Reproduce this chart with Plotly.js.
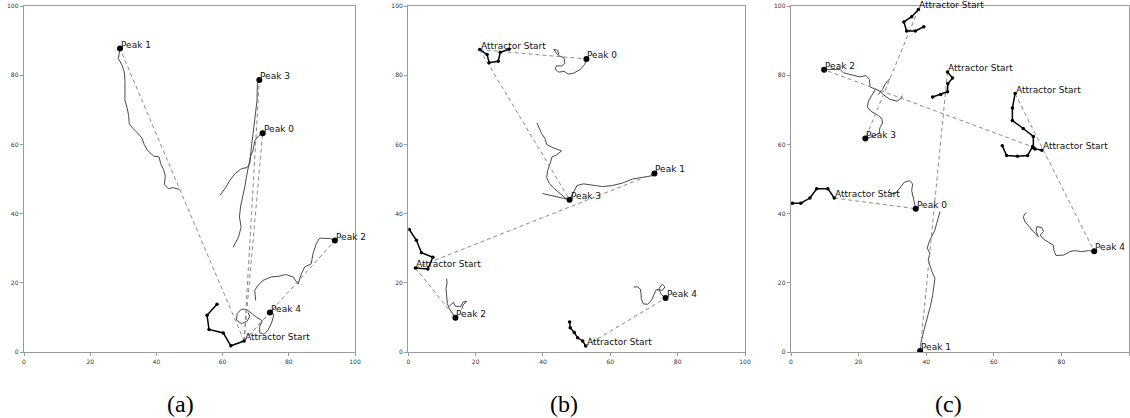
<!DOCTYPE html>
<html>
<head>
<meta charset="utf-8">
<script src="https://cdn.plot.ly/plotly-3.0.1.min.js"></script>
<style>html,body{margin:0;padding:0;background:#fff;}#chart{width:1130px;height:418px;}</style>
</head>
<body>
<div id="chart"></div>
<script>
// ---------------- Panel (a) ----------------
const peaksA_x = [72.1, 29.0, 93.9, 71.1, 74.3];
const peaksA_y = [63.2, 87.7, 32.2, 78.6, 11.4];
const peaksA_labels = ["Peak 0", "Peak 1", "Peak 2", "Peak 3", "Peak 4"];
const startsA_x = [66.5];
const startsA_y = [3.2];
const linksA_start = [0, 0, 0, 0, 0];
const linksA_peak = [1, 3, 0, 2, 4];
const pathA1_x = [58.3, 55.3, 55.9, 60.2, 62.5, 66.5];
const pathA1_y = [13.8, 10.6, 6.5, 5.5, 1.8, 3.2];
const trajA1_x = [29.0, 28.5, 29.6, 30.3, 30.5, 30.5, 31.1, 31.6, 31.8, 32.8, 34.2, 35.6, 36.3, 37.3, 39.2, 40.8, 41.3, 42.2, 42.7, 42.4, 43.6, 45.1, 46.9];
const trajA1_y = [87.7, 84.8, 82.9, 81.0, 78.5, 72.7, 70.8, 68.4, 66.0, 64.7, 63.4, 61.9, 60.0, 58.3, 56.6, 56.4, 54.4, 52.7, 50.8, 48.4, 47.2, 47.5, 47.0];
const trajA2_x = [71.1, 70.5, 70.4, 70.0, 69.5, 69.2, 68.8, 68.4, 68.2, 67.4, 65.7, 63.7, 62.2, 60.7, 59.2];
const trajA2_y = [78.6, 77.6, 72.7, 68.9, 66.0, 63.1, 60.2, 57.3, 54.4, 53.3, 53.0, 51.5, 49.6, 47.2, 45.3];
const trajA3_x = [72.1, 71.0, 69.8, 69.2, 68.4, 67.7, 67.2, 66.7, 66.0, 65.4, 65.1, 65.6, 64.8, 63.2];
const trajA3_y = [63.2, 62.6, 61.2, 58.3, 56.4, 53.5, 50.6, 47.7, 44.8, 41.9, 39.0, 36.1, 33.2, 30.3];
const trajA4_x = [93.9, 92.4, 89.3, 88.3, 87.3, 86.8, 84.8, 83.8, 82.8, 81.3, 79.1, 77.1, 74.7, 72.2, 70.7, 69.7, 70.0];
const trajA4_y = [32.2, 32.8, 32.9, 31.3, 28.4, 25.5, 24.6, 22.6, 19.6, 21.7, 22.4, 21.9, 21.7, 20.7, 19.3, 17.8, 14.9];
const trajA5_x = [74.3, 75.5, 74.8, 73.7, 72.5, 71.2, 71.2, 72.0, 70.2, 68.7, 67.2, 65.7, 64.4, 64.2, 65.7, 67.4, 68.2, 67.7];
const trajA5_y = [11.4, 10.9, 8.4, 6.3, 5.1, 5.6, 7.4, 9.0, 10.1, 11.1, 12.3, 12.4, 11.1, 9.2, 8.2, 8.9, 10.3, 11.4];

// ---------------- Panel (b) ----------------
const peaksB_x = [52.9, 73.1, 14.0, 47.9, 76.4];
const peaksB_y = [84.7, 51.6, 9.9, 44.0, 15.6];
const peaksB_labels = ["Peak 0", "Peak 1", "Peak 2", "Peak 3", "Peak 4"];
const startsB_x = [21.2, 2.1, 52.7];
const startsB_y = [87.4, 24.3, 1.7];
const linksB_start = [0, 0, 1, 1, 2];
const linksB_peak = [0, 3, 1, 2, 4];
const pathB1_x = [29.9, 27.3, 26.7, 24.0, 23.4, 21.2];
const pathB1_y = [87.5, 86.6, 84.0, 83.6, 86.0, 87.4];
const pathB2_x = [0.3, 2.4, 3.9, 7.3, 5.8, 2.1];
const pathB2_y = [35.4, 32.3, 28.7, 27.4, 24.0, 24.3];
const pathB3_x = [47.9, 48.1, 49.3, 50.3, 51.8, 52.7];
const pathB3_y = [8.7, 7.0, 5.6, 4.1, 3.2, 1.7];
const trajB1_x = [52.9, 52.4, 51.0, 49.1, 47.5, 46.3, 44.7, 43.6, 44.0, 45.6, 46.5, 46.2, 45.0, 44.1, 43.2, 44.4, 44.7];
const trajB1_y = [84.7, 83.1, 81.6, 80.6, 80.3, 81.1, 80.9, 81.7, 82.7, 82.7, 83.5, 85.1, 85.5, 86.2, 87.5, 87.2, 85.9];
const trajB2_x = [38.2, 38.9, 39.6, 40.6, 41.1, 42.6, 44.2, 45.5, 44.1, 42.7, 42.1, 41.4, 41.1, 41.9, 43.4, 45.0, 46.5, 47.9];
const trajB2_y = [66.2, 64.5, 63.1, 61.7, 60.0, 59.2, 58.6, 58.1, 57.0, 56.4, 54.4, 52.5, 50.4, 48.7, 47.2, 45.8, 44.6, 44.0];
const trajB3_x = [47.9, 49.0, 50.1, 52.0, 54.8, 57.7, 60.5, 63.5, 66.6, 69.6, 73.4, 73.1];
const trajB3_y = [44.0, 46.0, 48.1, 48.6, 48.1, 47.8, 48.1, 48.8, 50.0, 50.5, 51.1, 51.6];
const trajB4_x = [47.9, 45.8, 43.4, 39.9];
const trajB4_y = [44.0, 44.5, 45.0, 45.8];
const trajB5_x = [14.0, 13.0, 12.2, 11.6, 11.4, 11.2, 11.5, 11.4];
const trajB5_y = [9.9, 11.3, 12.5, 14.0, 15.9, 18.3, 19.9, 21.2];
const trajB6_x = [12.2, 13.4, 14.0, 15.6, 16.3, 17.3, 16.3, 15.9];
const trajB6_y = [13.2, 14.4, 13.2, 13.2, 14.5, 14.7, 13.6, 12.5];
const trajB7_x = [76.4, 75.1, 74.4, 75.4, 76.2, 75.5, 73.8, 73.2, 72.3, 71.1, 69.8, 69.2, 69.1, 68.9, 68.1, 66.9];
const trajB7_y = [15.6, 16.7, 18.2, 19.6, 18.8, 17.8, 18.1, 17.1, 15.1, 13.8, 13.9, 15.4, 16.9, 18.2, 18.8, 18.8];

// ---------------- Panel (c) ----------------
const peaksC_x = [36.9, 38.2, 9.8, 22.0, 89.7];
const peaksC_y = [41.4, 0.3, 81.6, 61.7, 29.1];
const peaksC_labels = ["Peak 0", "Peak 1", "Peak 2", "Peak 3", "Peak 4"];
const startsC_x = [37.7, 46.3, 66.3, 74.2, 12.8];
const startsC_y = [99.0, 80.9, 74.7, 58.3, 44.5];
const linksC_start = [0, 1, 2, 3, 4];
const linksC_peak = [3, 1, 4, 2, 0];
const pathC1_x = [39.3, 36.8, 34.2, 33.4, 35.7, 37.7];
const pathC1_y = [94.0, 92.8, 92.8, 95.4, 96.9, 99.0];
const pathC2_x = [41.9, 44.3, 46.3, 46.4, 47.8, 46.3];
const pathC2_y = [73.7, 74.4, 75.2, 77.5, 79.2, 80.9];
const pathC3_x = [71.7, 71.7, 68.7, 65.5, 65.5, 66.3];
const pathC3_y = [59.0, 62.3, 64.6, 66.9, 70.5, 74.7];
const pathC4_x = [62.5, 63.8, 67.0, 70.0, 71.5, 72.2, 74.2];
const pathC4_y = [59.6, 56.8, 56.6, 56.8, 59.4, 58.7, 58.3];
const pathC5_x = [0.4, 2.9, 5.6, 7.6, 10.9, 12.8];
const pathC5_y = [43.0, 43.0, 44.5, 47.2, 47.2, 44.5];
const trajC1_x = [9.8, 14.5, 15.5, 18.0, 20.4, 22.2, 23.2, 23.4, 24.9, 26.3, 27.3, 29.3, 31.4, 32.5, 33.0];
const trajC1_y = [81.6, 81.7, 80.7, 80.1, 79.5, 79.9, 78.8, 76.6, 75.9, 75.4, 74.4, 73.0, 72.5, 73.3, 74.1];
const trajC2_x = [24.9, 23.9, 22.9, 22.6, 23.6, 25.4, 26.8, 27.1, 26.3, 26.1, 24.4, 22.0];
const trajC2_y = [75.8, 74.1, 72.5, 70.8, 69.6, 68.6, 67.6, 66.2, 64.8, 63.3, 62.3, 61.7];
const trajC3_x = [25.8, 27.1, 27.8, 28.5, 29.3];
const trajC3_y = [74.4, 75.9, 77.3, 78.3, 79.0];
const trajC4_x = [36.9, 36.5, 36.2, 35.7, 36.0, 35.0, 33.6, 32.7, 31.7, 30.8, 29.6, 28.8, 29.3];
const trajC4_y = [41.4, 43.0, 44.8, 46.7, 48.6, 49.5, 49.1, 48.0, 46.7, 45.7, 45.9, 46.3, 47.1];
const trajC5_x = [38.2, 38.5, 39.2, 39.9, 40.6, 41.3, 41.9, 42.4, 42.6, 41.7, 41.1, 40.6, 41.1, 40.3, 40.9, 41.9, 42.6, 43.1, 43.6, 44.1];
const trajC5_y = [0.3, 2.9, 5.8, 8.2, 10.6, 13.5, 16.4, 19.3, 21.3, 23.2, 25.1, 26.6, 28.5, 30.0, 31.9, 33.8, 35.3, 37.2, 39.1, 40.6];
const trajC6_x = [89.7, 88.0, 86.0, 84.0, 82.5, 80.6, 78.4, 77.8, 77.6, 76.1, 74.7, 73.7, 74.7, 74.2, 72.7, 72.5, 73.2, 71.7, 70.5, 69.2, 68.7, 69.5];
const trajC6_y = [29.1, 29.3, 29.0, 29.3, 29.0, 28.0, 27.9, 29.3, 30.9, 31.9, 32.6, 33.8, 34.8, 36.0, 36.2, 34.8, 33.3, 34.8, 36.2, 37.7, 39.1, 40.3];

const START_LABEL = "Attractor Start";
const PANEL_LABELS = ["(a)", "(b)", "(c)"];

// ---------------- build ----------------
const TEXT_FONT = {family: "DejaVu Sans", size: 9, color: "#111"};
const traces = [];
const annotations = [];

function panel(idx, trajs, paths, px, py, plabels, sx, sy, lstart, lpeak) {
  const xa = idx === 0 ? "x" : "x" + (idx + 1);
  const ya = idx === 0 ? "y" : "y" + (idx + 1);
  trajs.forEach(t => traces.push({x: t[0], y: t[1], xaxis: xa, yaxis: ya, mode: "lines",
    line: {color: "#4a4a4a", width: 1}, hoverinfo: "skip"}));
  for (let i = 0; i < lstart.length; i++) {
    traces.push({x: [sx[lstart[i]], px[lpeak[i]]], y: [sy[lstart[i]], py[lpeak[i]]], xaxis: xa, yaxis: ya,
      mode: "lines", line: {color: "#8c8c8c", width: 1, dash: "4px,3px"}, hoverinfo: "skip"});
  }
  paths.forEach(p => traces.push({x: p[0], y: p[1], xaxis: xa, yaxis: ya, mode: "lines+markers",
    line: {color: "#000", width: 1.5}, marker: {color: "#000", size: 3.5}, hoverinfo: "skip"}));
  traces.push({x: px, y: py, xaxis: xa, yaxis: ya, mode: "markers",
    marker: {color: "#000", size: 6}, hoverinfo: "skip"});
  for (let i = 0; i < px.length; i++) {
    annotations.push({x: px[i], y: py[i], xref: xa, yref: ya, text: plabels[i], showarrow: false,
      xanchor: "left", yanchor: "bottom", borderpad: 0, yshift: -2, font: TEXT_FONT});
  }
  for (let i = 0; i < sx.length; i++) {
    annotations.push({x: sx[i], y: sy[i], xref: xa, yref: ya, text: START_LABEL, showarrow: false,
      xanchor: "left", yanchor: "bottom", borderpad: 0, yshift: -2, font: TEXT_FONT});
  }
}

panel(0, [[trajA1_x, trajA1_y], [trajA2_x, trajA2_y], [trajA3_x, trajA3_y], [trajA4_x, trajA4_y], [trajA5_x, trajA5_y]],
  [[pathA1_x, pathA1_y]], peaksA_x, peaksA_y, peaksA_labels, startsA_x, startsA_y, linksA_start, linksA_peak);
panel(1, [[trajB1_x, trajB1_y], [trajB2_x, trajB2_y], [trajB3_x, trajB3_y], [trajB4_x, trajB4_y], [trajB5_x, trajB5_y], [trajB6_x, trajB6_y], [trajB7_x, trajB7_y]],
  [[pathB1_x, pathB1_y], [pathB2_x, pathB2_y], [pathB3_x, pathB3_y]], peaksB_x, peaksB_y, peaksB_labels, startsB_x, startsB_y, linksB_start, linksB_peak);
panel(2, [[trajC1_x, trajC1_y], [trajC2_x, trajC2_y], [trajC3_x, trajC3_y], [trajC4_x, trajC4_y], [trajC5_x, trajC5_y], [trajC6_x, trajC6_y]],
  [[pathC1_x, pathC1_y], [pathC2_x, pathC2_y], [pathC3_x, pathC3_y], [pathC4_x, pathC4_y], [pathC5_x, pathC5_y]], peaksC_x, peaksC_y, peaksC_labels, startsC_x, startsC_y, linksC_start, linksC_peak);

const W = 1130, H = 418;
const xDomains = [[24, 355], [408.3, 745], [791, 1129]];
const yTop = 6, yBot = 352;
const labelX = [180, 564, 948];

const axisBase = {
  range: [0, 100], tickvals: [0, 20, 40, 60, 80, 100], showgrid: false, zeroline: false,
  showline: true, mirror: true, linecolor: "#9a9a9a", linewidth: 1.3,
  ticks: "outside", ticklen: 3, tickwidth: 1, tickcolor: "#9a9a9a",
  tickfont: {family: "DejaVu Sans", size: 6, color: "#333"}, fixedrange: true
};

const layout = {
  width: W, height: H, margin: {l: 0, r: 0, t: 0, b: 0},
  paper_bgcolor: "#fff", plot_bgcolor: "#fff", showlegend: false,
  annotations: annotations
};
for (let i = 0; i < 3; i++) {
  const s = i === 0 ? "" : String(i + 1);
  layout["xaxis" + s] = Object.assign({}, axisBase, {domain: [xDomains[i][0] / W, xDomains[i][1] / W], anchor: "y" + s});
  layout["yaxis" + s] = Object.assign({}, axisBase, {domain: [(H - yBot) / H, (H - yTop) / H], anchor: "x" + s});
  annotations.push({xref: "paper", yref: "paper", x: labelX[i] / W, y: 1 - 404 / H, text: PANEL_LABELS[i],
    showarrow: false, xanchor: "center", yanchor: "middle", font: {family: "Liberation Serif", size: 24, color: "#000"}});
}

Plotly.newPlot("chart", traces, layout, {displayModeBar: false, staticPlot: true});
</script>
</body>
</html>
